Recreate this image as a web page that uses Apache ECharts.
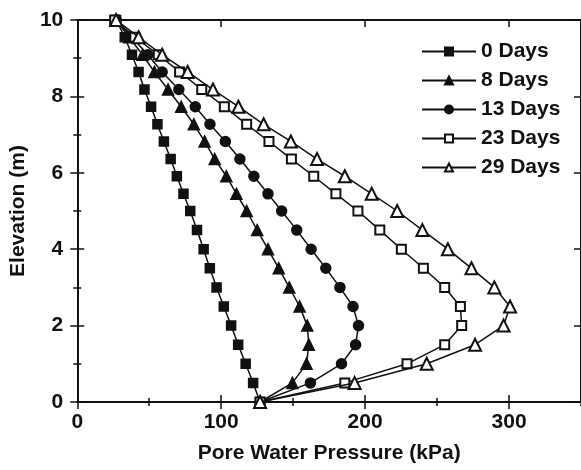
<!DOCTYPE html>
<html>
<head>
<meta charset="utf-8">
<script src="https://cdn.jsdelivr.net/npm/echarts@6/dist/echarts.min.js"></script>
<style>
html,body{margin:0;padding:0;background:#fff;}
#chart{width:581px;height:470px;}
</style>
</head>
<body>
<div id="chart"></div>
<script>
const elevations = [10, 9.55, 9.09, 8.64, 8.18, 7.73, 7.27, 6.82, 6.36, 5.91, 5.45, 5.0, 4.5, 4.0, 3.5, 3.0, 2.5, 2.0, 1.5, 1.0, 0.5, 0];
const days0  = [27, 33, 38, 42.6, 46.7, 51.3, 55.7, 60.2, 64.9, 69.2, 73.8, 78.5, 83.2, 87.8, 92.1, 96.8, 101.8, 106.9, 111.8, 117, 122.2, 127];
const days8  = [27, 36, 45.4, 53.6, 63.1, 72.2, 81, 88.5, 95.5, 103.6, 110.6, 117.7, 125, 132.5, 140, 147.3, 154.5, 159.8, 160.9, 159.3, 149.5, 127];
const days13 = [27, 38, 49, 59, 70.6, 82, 92.2, 102.9, 113, 122.7, 132.5, 142, 152.5, 162.5, 172.7, 182.5, 191.6, 195.4, 193.4, 183.6, 162, 127];
const days23 = [26, 40, 56.3, 71.1, 86.5, 102.2, 117.7, 133.2, 148.8, 164.3, 179.7, 195, 210.2, 225.2, 240.5, 255.3, 266.2, 267.1, 255.3, 229.1, 185.9, 127];
const days29 = [27, 42.6, 59, 76.7, 94.3, 112, 129.5, 148.4, 166.6, 185.9, 204.6, 222.3, 239.8, 257.5, 273.9, 289.8, 300.7, 296.2, 276.4, 242.8, 192.7, 127];
const seriesNames = ['0 Days', '8 Days', '13 Days', '23 Days', '29 Days'];
const xTitle = 'Pore Water Pressure (kPa)';
const yTitle = 'Elevation (m)';

const FONT = '"Liberation Sans", Arial, sans-serif';
const BLACK = '#111';
const chart = echarts.init(document.getElementById('chart'), null, {renderer: 'canvas'});

function pairs(xs) { return xs.map((v, i) => [v, elevations[i]]); }

const X_MIN = 0, X_MAX = 350, Y_MIN = 0, Y_MAX = 10;

function xAx(opts) {
  return Object.assign({
    type: 'value', min: X_MIN, max: X_MAX, gridIndex: 0,
    splitLine: {show: false},
    axisLine: {show: false},
    axisLabel: {show: false},
    axisTick: {show: false}
  }, opts);
}
function yAx(opts) {
  return Object.assign({
    type: 'value', min: Y_MIN, max: Y_MAX, gridIndex: 0,
    splitLine: {show: false},
    axisLine: {show: false},
    axisLabel: {show: false},
    axisTick: {show: false}
  }, opts);
}

const symbols = ['rect', 'triangle', 'circle', 'emptyRect', 'emptyTriangle'];
const sizes = [9, 11, 10, 9, 12];
const datas = [days0, days8, days13, days23, days29];

const option = {
  animation: false,
  backgroundColor: '#fff',
  grid: {left: 71, top: 20, width: 514, height: 382, containLabel: false},
  legend: {
    orient: 'vertical', left: 416, top: 36,
    itemWidth: 54, itemHeight: 10, itemGap: 8,
    textStyle: {fontFamily: FONT, fontSize: 21, fontWeight: 'bold', color: BLACK},
    data: seriesNames
  },
  xAxis: [
    xAx({position: 'bottom', interval: 100,
      axisLine: {show: true, onZero: false, lineStyle: {color: BLACK, width: 2}},
      axisTick: {show: true, inside: false, length: 7, lineStyle: {color: BLACK, width: 1.5}},
      axisLabel: {show: true, margin: 10, showMaxLabel: false, fontFamily: FONT, fontSize: 21, fontWeight: 'bold', color: BLACK},
      name: xTitle, nameLocation: 'middle', nameGap: 41,
      nameTextStyle: {fontFamily: FONT, fontSize: 21, fontWeight: 'bold', color: BLACK}
    }),
    xAx({position: 'bottom', interval: 100,
      axisTick: {show: true, inside: true, length: 7, lineStyle: {color: BLACK, width: 1.5}}}),
    xAx({position: 'bottom', interval: 50,
      axisTick: {show: true, inside: true, length: 4, lineStyle: {color: BLACK, width: 1.5}}}),
    xAx({position: 'top', interval: 100,
      axisLine: {show: true, onZero: false, lineStyle: {color: BLACK, width: 2}},
      axisTick: {show: true, inside: true, length: 7, lineStyle: {color: BLACK, width: 1.5}}}),
    xAx({position: 'top', interval: 50,
      axisTick: {show: true, inside: true, length: 4, lineStyle: {color: BLACK, width: 1.5}}})
  ],
  yAxis: [
    yAx({position: 'left', interval: 2,
      axisLine: {show: true, onZero: false, lineStyle: {color: BLACK, width: 2}},
      axisTick: {show: true, inside: false, length: 7, lineStyle: {color: BLACK, width: 1.5}},
      axisLabel: {show: true, margin: 14, fontFamily: FONT, fontSize: 21, fontWeight: 'bold', color: BLACK},
      name: yTitle, nameLocation: 'middle', nameGap: 43,
      nameTextStyle: {fontFamily: FONT, fontSize: 21, fontWeight: 'bold', color: BLACK}
    }),
    yAx({position: 'left', interval: 2,
      axisTick: {show: true, inside: true, length: 7, lineStyle: {color: BLACK, width: 1.5}}}),
    yAx({position: 'left', interval: 1,
      axisTick: {show: true, inside: true, length: 4, lineStyle: {color: BLACK, width: 1.5}}}),
    yAx({position: 'right', interval: 2,
      axisLine: {show: true, onZero: false, lineStyle: {color: BLACK, width: 2}},
      axisTick: {show: true, inside: true, length: 7, lineStyle: {color: BLACK, width: 1.5}}}),
    yAx({position: 'right', interval: 1,
      axisTick: {show: true, inside: true, length: 4, lineStyle: {color: BLACK, width: 1.5}}})
  ],
  series: seriesNames.map((name, i) => ({
    name: name,
    type: 'line',
    xAxisIndex: 0, yAxisIndex: 0,
    data: pairs(datas[i]),
    symbol: symbols[i],
    symbolSize: sizes[i],
    showAllSymbol: true,
    lineStyle: {color: BLACK, width: 1.5},
    itemStyle: {color: BLACK, borderColor: BLACK, borderWidth: 1.5},
    emphasis: {disabled: true},
    z: 2 + i
  }))
};
chart.setOption(option);
</script>
</body>
</html>
